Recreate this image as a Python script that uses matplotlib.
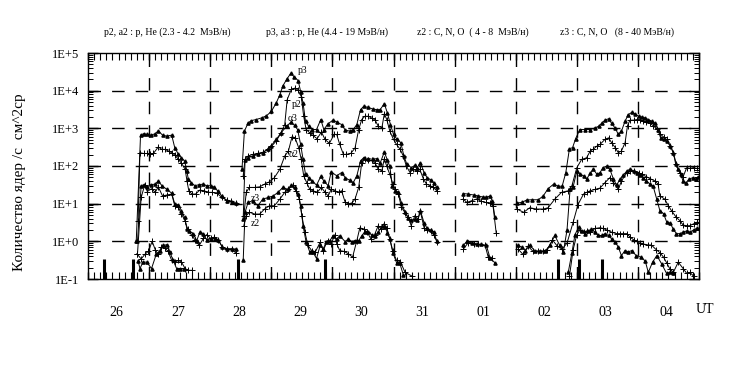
import matplotlib
matplotlib.use("Agg")
import matplotlib.pyplot as plt
from matplotlib.ticker import FixedLocator, LogLocator, NullFormatter, MultipleLocator

plt.rcParams['font.family'] = ['Liberation Serif', 'DejaVu Serif']

N = float('nan')
# time axis: days since 26 (00 UT); NaN = data gap

p3_t = [0.79,0.86,0.91,0.96,1.03,1.10,1.15,1.22,1.29,1.37,1.42,1.48,1.53,1.58,1.62,1.64,1.69,1.75,1.82,1.89,1.94,2.01,2.07,2.12,2.19,2.27,2.35,2.42, N,
        2.52,2.56,2.62,2.67,2.75,2.84,2.92,3.00,3.08,3.14,3.19,3.26,3.32,3.37,3.44,3.48,3.52,3.56,3.61,3.67,3.74,3.81,3.86,3.93,4.01,4.07,4.15,4.21,4.29,4.34,4.40,4.46,4.51,4.59,4.66,4.73,4.78,4.85,4.90,4.95,5.00,5.05,5.12,5.17,5.22,5.29,5.35,5.39,5.44,5.50,5.55,5.61,5.66,5.71, N,
        6.14,6.22,6.31,6.39,6.47,6.52,6.58,6.62,6.66, N,
        7.02,7.10,7.18,7.26,7.37,7.45,7.53,7.62,7.70,7.76,7.82,7.88,7.93,7.98,8.05,8.13,8.22,8.30,8.36,8.41,8.46,8.52,8.57,8.63,8.68,8.73,8.79,8.84,8.90,8.95,9.01,9.06,9.12,9.17,9.23,9.28,9.33,9.37,9.43,9.47,9.53,9.58,9.62,9.66,9.70,9.74,9.79,9.84,9.90,9.95,9.99]
p3_v = [1.05,660,720,690,660,720,860,660,620,660,305,204,166,136,74,45,36,30,32,33,30,30,27,22,16,12,10.8,10.2, N,
        82,840,1390,1600,1710,1890,2150,2800,4700,7800,13500,21000,29000,23700,18500,9500,4700,1540,1140,930,930,1710,930,1330,1650,1480,1260,900,840,930,1260,3130,3800,3600,3250,3130,3130,4500,2560,1260,690,530,414,184,110,91,104,91,123,67,49,43,35,27, N,
        18.6,18,17,16,14.9,14.9,16,11.5,4.4, N,
        10.4,10.8,12.5,12.7,12.7,16,25,33,29,29,67,290,305,527,930,930,930,1030,1140,1390,1640,1800,1350,1000,687,840,1540,2310,2650,2450,2090,2000,1890,1710,1540,1350,930,560,507,458,338,225,110,82,60,40,36,45,49,45,52]

p2_t = [0.82,0.85,0.91,0.96,1.02,1.07,1.15,1.21,1.26,1.32,1.37,1.42,1.48,1.53,1.59,1.62,1.65,1.70,1.76,1.83,1.90,1.97,2.03,2.11,2.19,2.27,2.34,2.42, N,
        2.54,2.57,2.62,2.70,2.78,2.86,2.95,3.00,3.08,3.16,3.22,3.26,3.33,3.39,3.44,3.49,3.53,3.57,3.63,3.68,3.75,3.82,3.88,3.95,4.03,4.07,4.12,4.18,4.23,4.30,4.37,4.43,4.48,4.53,4.59,4.64,4.70,4.75,4.81,4.85,4.89,4.94,5.00,5.05,5.11,5.16,5.21,5.27,5.32,5.38,5.43,5.49,5.54,5.60,5.65,5.71, N,
        6.14,6.20,6.28,6.36,6.44,6.51,6.58,6.63,6.68, N,
        7.02,7.13,7.23,7.34,7.45,7.53,7.64,7.75,7.86,7.92,8.00,8.08,8.16,8.22,8.27,8.33,8.38,8.46,8.52,8.57,8.63,8.68,8.73,8.79,8.83,8.87,8.93,8.98,9.03,9.09,9.14,9.20,9.25,9.31,9.36,9.42,9.47,9.53,9.58,9.63,9.69,9.74,9.80,9.85,9.91,9.96]
p2_v = [3.5,225,215,215,204,215,320,276,276,249,225,196,150,118,82,40,22,18,18,23,22,20,20,19,14.6,12.5,11.5,10.2, N,
        55,150,184,204,215,230,276,330,460,760,1260,5800,11000,11700,10200,7000,2090,930,760,650,530,800,506,400,690,690,374,204,204,215,300,930,1710,2090,2090,1890,1650,1140,1040,2450,1710,840,506,374,276,184,100,67,82,74,82,45,33,30,27,22, N,
        13.3,10.8,12,13.3,11.5,10.8,10.4,8.5,1.7, N,
        7.2,5.9,7.8,7.2,7.2,7.8,13.2,20,22,30,90,150,165,250,280,338,374,507,560,414,305,225,250,414,1180,1650,1650,1710,1710,1540,1430,1350,1180,960,720,590,507,350,225,110,64,52,91,86,91,86]

a3_t = [0.81,0.87,0.92,0.97,1.03,1.10,1.15,1.21,1.29,1.37,1.42,1.48,1.53,1.58,1.62,1.66,1.72,1.78,1.83,1.89,1.94,2.01,2.08,2.13,2.20,2.27,2.35,2.42, N,
        2.54,2.57,2.62,2.70,2.78,2.86,2.95,3.00,3.08,3.16,3.25,3.32,3.38,3.43,3.48,3.52,3.56,3.61,3.67,3.74,3.81,3.86,3.93,3.98,4.07,4.15,4.21,4.28,4.34,4.40,4.46,4.51,4.59,4.66,4.73,4.78,4.85,4.90,4.94,4.98,5.03,5.08,5.13,5.19,5.24,5.29,5.35,5.39,5.44,5.50,5.55,5.61,5.66,5.71, N,
        6.14,6.20,6.28,6.36,6.44,6.52,6.58,6.66, N,
        7.03,7.10,7.16,7.23,7.32,7.40,7.48,7.56,7.64,7.72,7.78,7.84,7.89,7.94,8.00,8.06,8.11,8.16,8.22,8.27,8.33,8.38,8.43,8.49,8.54,8.60,8.65,8.71,8.76,8.82,8.87,8.93,8.98,9.03,9.09,9.14,9.20,9.25,9.31,9.36,9.42,9.47,9.53,9.58,9.63,9.69,9.74,9.80,9.85,9.91,9.96]
a3_v = [1.0,30,32,28,32,33,40,30,24,19,9.8,9.3,6.5,4.3,2.1,1.9,1.6,1.05,1.75,1.6,1.1,1.16,1.16,1.1,0.70,0.63,0.63,0.63, N,
        3.9,140,166,184,204,225,290,350,506,760,1140,1450,1200,930,374,150,60,49,40,31,53,40,30,70,55,67,49,42,36,55,136,166,158,150,158,118,235,145,97,30,22,20,10.4,5.9,4.1,3.6,3.9,3.6,6.5,3.1,2.2,2.0,1.75,1.0, N,
        0.78,0.99,0.91,0.86,0.83,0.78,0.36,0.27, N,
        0.78,0.70,0.57,0.78,0.55,0.55,0.55,0.78,1.43,0.78,0.52,2.0,24,28,74,60,55,45,64,82,60,67,91,100,82,45,31,45,57,74,82,74,67,57,49,40,33,29,13,6.5,5.4,3.3,3.0,2.1,1.6,1.6,1.75,1.9,1.75,2.0,2.2]

a2_t = [0.81,0.87,0.93,0.97,1.04,1.10,1.15,1.22,1.29,1.37,1.42,1.48,1.53,1.59,1.63,1.70,1.75,1.82,1.89,1.94,2.01,2.07,2.13,2.20,2.27,2.35,2.42, N,
        2.55,2.59,2.64,2.73,2.81,2.89,2.97,3.05,3.14,3.22,3.28,3.34,3.39,3.45,3.49,3.53,3.58,3.63,3.68,3.75,3.82,3.88,3.93,3.98,4.04,4.10,4.15,4.21,4.26,4.32,4.37,4.43,4.48,4.53,4.59,4.64,4.70,4.75,4.81,4.85,4.89,4.94,4.99,5.03,5.08,5.13,5.19,5.24,5.29,5.35,5.40,5.44,5.50,5.55,5.61,5.66,5.71, N,
        6.14,6.22,6.31,6.39,6.50,6.55,6.62, N,
        7.04,7.12,7.20,7.28,7.36,7.44,7.52,7.60,7.68,7.76,7.84,7.94,8.02,8.11,8.16,8.22,8.30,8.38,8.46,8.54,8.60,8.68,8.73,8.82,8.87,8.93,9.01,9.06,9.14,9.20,9.28,9.33,9.36,9.44,9.50,9.55,9.63,9.69,9.74,9.80,9.85,9.91,9.96]
a2_v = [0.47,14.6,32,21,25,20,28,16,17,18,8.8,8.0,5.3,3.5,2.1,1.43,1.1,0.78,1.2,1.5,1.2,1.3,1.1,0.70,0.63,0.63,0.49, N,
        4.8,20,27,27,28,33,38,49,82,184,250,600,560,300,150,55,36,24,22,20,27,20,16,24,22,20,22,10.8,9.8,10.5,13.2,27,123,150,145,140,118,82,75,158,97,60,33,24,18,8.0,5.7,4.4,2.6,4.8,3.8,6.2,2.3,2.0,1.85,1.5,0.97, N,
        0.61,0.91,0.83,0.83,0.78,0.38,0.36, N,
        0.62,0.45,0.75,0.55,0.55,0.55,0.60,1.1,0.75,0.62,0.9,3.2,9.5,18,20,22,24,26,36,49,36,24,40,67,74,74,67,60,52,46,40,33,16,13.2,8.7,6.5,4.3,3.5,2.7,2.6,2.6,2.9,3.2]

z3_t = [0.82,0.85,0.90,0.96,1.04,1.12,1.18,1.23,1.30,1.34,1.39,1.45,1.51,1.57, N,
        2.54,2.57,2.62,2.70,2.78,2.86,2.95,3.03,3.11,3.19,3.27,3.33,3.38,3.44,3.48,3.52,3.57,3.63,3.68,3.74,3.80,3.85,3.90,3.96,4.01,4.07,4.12,4.21,4.26,4.32,4.37,4.43,4.48,4.53,4.59,4.64,4.70,4.75,4.81,4.86,4.90,4.94,4.99,5.05,5.10,5.16, N,
        7.86,7.92,7.97,8.03,8.08,8.13,8.19,8.24,8.30,8.35,8.41,8.46,8.52,8.57,8.63,8.68,8.73,8.79,8.84,8.90,8.97,9.05,9.12,9.17,9.24,9.31,9.39,9.47,9.53,9.58]
z3_v = [0.3,0.19,0.28,0.28,0.19,0.47,0.55,0.78,0.82,0.52,0.32,0.19,0.19,0.19, N,
        0.31,5.9,10.8,12,8.8,13.2,14.6,16,20,27,24,31,27,18,8.8,2.6,0.95,0.52,0.52,0.35,0.78,0.63,0.95,1.05,1.4,1.16,1.4,0.98,1.16,0.98,1.05,1.05,1.4,1.8,1.75,1.5,1.4,1.75,2.5,2.4,1.7,1.16,0.5,0.27,0.27,0.13, N,
        0.15,0.5,1.5,2.4,1.9,1.6,1.9,2.1,1.75,1.43,1.43,1.6,1.43,1.16,0.95,0.70,0.42,0.57,0.52,0.57,0.42,0.38,0.30,0.15,0.28,0.42,0.25,0.14,0.15,0.14]

z2_t = [0.80,0.87,0.93,0.99,1.05,1.10,1.15,1.20,1.26,1.31,1.37,1.42,1.48,1.53,1.59,1.64,1.70, N,
        2.55,2.59,2.64,2.73,2.81,2.89,2.97,3.05,3.14,3.22,3.28,3.35,3.40,3.46,3.50,3.55,3.60,3.66,3.72,3.80,3.85,3.92,3.98,4.04,4.07,4.12,4.19,4.26,4.33,4.40,4.45,4.51,4.57,4.63,4.69,4.75,4.80,4.84,4.89,4.94,4.99,5.05,5.11,5.19,5.30, N,
        7.88,7.94,8.00,8.05,8.11,8.16,8.22,8.30,8.38,8.43,8.49,8.57,8.65,8.70,8.76,8.82,8.87,8.93,8.98,9.03,9.09,9.17,9.22,9.30,9.36,9.42,9.47,9.52,9.58,9.66,9.74,9.80,9.85,9.91]
z2_v = [0.47,0.34,0.45,0.55,1.0,0.6,0.45,0.7,0.65,0.55,0.31,0.28,0.31,0.28,0.19,0.17,0.17, N,
        2.6,4.8,5.9,5.3,5.3,7.2,8.8,8.8,13.2,20,24,31,22,13.2,4.8,1.75,0.78,0.57,0.52,0.95,0.57,1.05,0.87,1.5,0.87,0.57,0.54,0.47,0.38,1.05,2.3,2.1,1.75,1.16,1.5,2.6,2.1,2.9,2.3,1.16,0.54,0.31,0.29,0.15,0.12, N,
        0.12,0.6,1.5,2.0,1.75,1.9,1.75,2.2,2.3,2.2,2.0,1.75,1.6,1.6,1.6,1.6,1.3,1.1,1.0,0.9,0.85,0.8,0.8,0.6,0.5,0.38,0.27,0.19,0.15,0.28,0.19,0.14,0.15,0.12]

# event markers (vertical bars at the bottom)
event_t = [0.26, 0.74, 2.45, 3.88, 7.69, 8.04, 8.41]
event_top = 0.35

day_labels = ["26", "27", "28", "29", "30", "31", "01", "02", "03", "04"]
ytick_vals = [1e-1, 1e0, 1e1, 1e2, 1e3, 1e4, 1e5]
ytick_labels = ["1E-1", "1E+0", "1E+1", "1E+2", "1E+3", "1E+4", "1E+5"]
header = ["p2, a2 : p, He (2.3 - 4.2  МэВ/н)", "p3, a3 : p, He (4.4 - 19 МэВ/н)",
          "z2 : C, N, O  ( 4 - 8  МэВ/н)", "z3 : C, N, O   (8 - 40 МэВ/н)"]
header_x = [167, 327, 473, 617]

fig = plt.figure(figsize=(7.43, 3.84), dpi=100)
ax = fig.add_axes([88/743, 1-279/384, (699-88)/743, (279-53)/384])
ax.set_yscale('log')
ax.set_xlim(0, 10)
ax.set_ylim(1e-1, 1e5)

tri = dict(color='k', lw=0.7, marker='^', ms=2.3, mfc='k', mec='k')
plus = dict(color='k', lw=0.7, marker='+', ms=4.0, mew=0.7)
ax.plot(p3_t, p3_v, **tri)
ax.plot(p2_t, p2_v, **plus)
ax.plot(a3_t, a3_v, **tri)
ax.plot(a2_t, a2_v, **plus)
ax.plot(z3_t, z3_v, **tri)
ax.plot(z2_t, z2_v, **plus)

ax.vlines(event_t, 1e-1, event_top, colors='k', lw=2.2)

# grid
for d in range(1, 10):
    ax.axvline(d, color='k', lw=1.0, dashes=(9, 8))
for yv in ytick_vals[1:-1]:
    ax.axhline(yv, color='k', lw=1.0, dashes=(9, 8))

ax.yaxis.set_major_locator(FixedLocator(ytick_vals))
ax.set_yticklabels(ytick_labels, fontsize=9)
ax.yaxis.set_minor_locator(LogLocator(base=10, subs=range(2, 10), numticks=20))
ax.yaxis.set_minor_formatter(NullFormatter())
ax.xaxis.set_major_locator(MultipleLocator(1))
ax.xaxis.set_minor_locator(MultipleLocator(0.1))
ax.set_xticklabels([])
ax.tick_params(axis='both', which='both', direction='in', top=True, right=True, color='k')
ax.tick_params(axis='y', which='major', length=7, width=1, pad=6)
ax.tick_params(axis='y', which='minor', length=3.5, width=0.7)
ax.tick_params(axis='x', which='major', length=5, width=1)
ax.tick_params(axis='x', which='minor', length=5, width=0.8)
for s in ax.spines.values():
    s.set_linewidth(1.0)

tr = ax.get_xaxis_transform()
for i, lab in enumerate(day_labels):
    ax.text(i + 0.47, -0.15, lab, transform=tr, ha='center', va='center', fontsize=10)
ax.text(10.1, -0.135, "UT", transform=tr, ha='center', va='center', fontsize=10, clip_on=False)

# curve labels
ax.text(3.52, 35000, "p3", fontsize=7, ha='center', va='center')
ax.text(3.42, 4200, "p2", fontsize=7, ha='center', va='center')
ax.text(3.35, 1800, "α3", fontsize=7, ha='center', va='center')
ax.text(3.36, 200, "α2", fontsize=7, ha='center', va='center')
ax.text(2.73, 14, "z3", fontsize=7, ha='center', va='center')
ax.text(2.73, 3.0, "z2", fontsize=7, ha='center', va='center')

for x, h in zip(header_x, header):
    fig.text(x/743, 1-32/384, h, ha='center', va='center', fontsize=7)

fig.text(20/743, 1-182/384, "Количество ядер /с  см^2ср", rotation=90,
         ha='center', va='center', fontsize=11)

fig.savefig("out.png", dpi=100)
